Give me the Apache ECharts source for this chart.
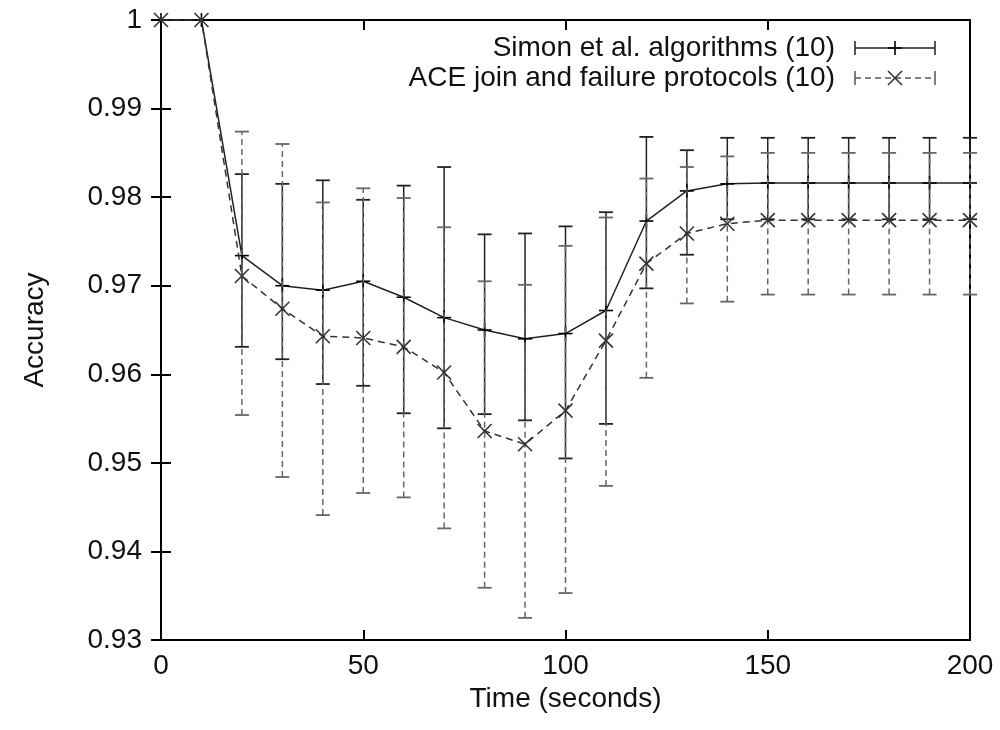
<!DOCTYPE html>
<html><head><meta charset="utf-8">
<script src="https://cdn.jsdelivr.net/npm/echarts@6/dist/echarts.min.js"></script>
<style>html,body{margin:0;padding:0;background:#fff}#c{width:1000px;height:730px}</style>
</head><body><div id="c"></div>
<script>
const times = [0,10,20,30,40,50,60,70,80,90,100,110,120,130,140,150,160,170,180,190,200];
const simonMean = [1,1,0.9734,0.9700,0.9695,0.9705,0.9687,0.9664,0.9650,0.9640,0.9646,0.9672,0.9773,0.9807,0.9815,0.9816,0.9816,0.9816,0.9816,0.9816,0.9816];
const simonLow  = [1,1,0.9631,0.9617,0.9589,0.9587,0.9556,0.9539,0.9555,0.9548,0.9505,0.9544,0.9697,0.9735,0.9775,0.9775,0.9775,0.9775,0.9775,0.9775,0.9775];
const simonHigh = [1,1,0.9826,0.9815,0.9819,0.9797,0.9813,0.9834,0.9758,0.9759,0.9767,0.9783,0.9868,0.9853,0.9867,0.9867,0.9867,0.9867,0.9867,0.9867,0.9867];
const aceMean = [1,1,0.9711,0.9674,0.9643,0.9641,0.9631,0.9602,0.9536,0.9521,0.9559,0.9638,0.9725,0.9759,0.9770,0.9774,0.9774,0.9774,0.9774,0.9774,0.9774];
const aceLow  = [1,1,0.9554,0.9484,0.9441,0.9466,0.9461,0.9426,0.9359,0.9325,0.9353,0.9474,0.9596,0.9680,0.9682,0.9690,0.9690,0.9690,0.9690,0.9690,0.9690];
const aceHigh = [1,1,0.9874,0.9860,0.9794,0.9810,0.9799,0.9766,0.9705,0.9701,0.9745,0.9777,0.9821,0.9834,0.9846,0.9850,0.9850,0.9850,0.9850,0.9850,0.9850];
const seriesNames = ['Simon et al. algorithms (10)', 'ACE join and failure protocols (10)'];
const yTicks = {min: 0.93, max: 1, interval: 0.01};
const xTicks = {min: 0, max: 200, interval: 50};

const FONT = "'Liberation Sans', Arial, Helvetica, sans-serif";
const FS = 28;
const TXT = '#111';
const CAP = 7, MK = 7;

function markerShapes(kind, cx, cy, style) {
  if (kind === 'plus') {
    return [
      {type:'line', shape:{x1:cx-MK,y1:cy,x2:cx+MK,y2:cy}, style},
      {type:'line', shape:{x1:cx,y1:cy-MK,x2:cx,y2:cy+MK}, style}
    ];
  }
  return [
    {type:'line', shape:{x1:cx-MK,y1:cy-MK,x2:cx+MK,y2:cy+MK}, style},
    {type:'line', shape:{x1:cx-MK,y1:cy+MK,x2:cx+MK,y2:cy-MK}, style}
  ];
}

function errRender(color, dash, marker, markColor) {
  return function(params, api) {
    const x = api.value(0), lo = api.value(1), hi = api.value(2), m = api.value(3);
    const pLo = api.coord([x, lo]), pHi = api.coord([x, hi]), pM = api.coord([x, m]);
    const st = {stroke: color, lineWidth: 1.5, lineDash: dash};
    const cst = {stroke: color, lineWidth: 1.8};
    const ch = [];
    if (hi > lo) {
      ch.push({type:'line', shape:{x1:pLo[0],y1:pLo[1],x2:pHi[0],y2:pHi[1]}, style:st});
      ch.push({type:'line', shape:{x1:pLo[0]-CAP,y1:pLo[1],x2:pLo[0]+CAP,y2:pLo[1]}, style:cst});
      ch.push({type:'line', shape:{x1:pHi[0]-CAP,y1:pHi[1],x2:pHi[0]+CAP,y2:pHi[1]}, style:cst});
    }
    markerShapes(marker, pM[0], pM[1], {stroke: markColor, lineWidth: 1.6}).forEach(s => ch.push(s));
    return {type:'group', children: ch};
  };
}

const simonErr = times.map((t,i)=>[t, simonLow[i], simonHigh[i], simonMean[i]]);
const aceErr = times.map((t,i)=>[t, aceLow[i], aceHigh[i], aceMean[i]]);

const axisCommon = {
  axisLine: {show: true, lineStyle: {color: '#000', width: 2}},
  axisTick: {show: true, inside: true, length: 10, lineStyle: {color: '#000', width: 2}},
  splitLine: {show: false}
};

const chart = echarts.init(document.getElementById('c'), null, {renderer: 'canvas'});

// legend graphics
const LX1 = 855, LX2 = 935, LXM = 895, LY1 = 48, LY2 = 78;
const legendGraphics = [
  {type:'text', style:{text: seriesNames[0], x: 835, y: LY1, align:'right', verticalAlign:'middle', fontSize: FS, fontFamily: FONT, fill: TXT}},
  {type:'text', style:{text: seriesNames[1], x: 835, y: LY2, align:'right', verticalAlign:'middle', fontSize: FS, fontFamily: FONT, fill: TXT}},
  {type:'line', shape:{x1:LX1,y1:LY1,x2:LX2,y2:LY1}, style:{stroke:'#222', lineWidth:1.5}},
  {type:'line', shape:{x1:LX1,y1:LY1-CAP,x2:LX1,y2:LY1+CAP}, style:{stroke:'#222', lineWidth:1.5}},
  {type:'line', shape:{x1:LX2,y1:LY1-CAP,x2:LX2,y2:LY1+CAP}, style:{stroke:'#222', lineWidth:1.5}},
  {type:'line', shape:{x1:LX1,y1:LY2,x2:LX2,y2:LY2}, style:{stroke:'#555', lineWidth:1.5, lineDash:[6,4]}},
  {type:'line', shape:{x1:LX1,y1:LY2-CAP,x2:LX1,y2:LY2+CAP}, style:{stroke:'#555', lineWidth:1.5}},
  {type:'line', shape:{x1:LX2,y1:LY2-CAP,x2:LX2,y2:LY2+CAP}, style:{stroke:'#555', lineWidth:1.5}}
];
markerShapes('plus', LXM, LY1, {stroke:'#000', lineWidth:1.6}).forEach(s=>legendGraphics.push(s));
markerShapes('x', LXM, LY2, {stroke:'#333', lineWidth:1.6}).forEach(s=>legendGraphics.push(s));
legendGraphics.unshift({type:'rect', shape:{x:480,y:28,width:470,height:66}, style:{fill:'#fff'}});

const option = {
  backgroundColor: '#fff',
  animation: false,
  textStyle: {fontFamily: FONT},
  grid: {left: 161, right: 30, top: 20, bottom: 90, show: true, borderColor: '#000', borderWidth: 2, backgroundColor: 'transparent'},
  xAxis: [
    Object.assign({type:'value', position:'bottom', min:xTicks.min, max:xTicks.max, interval:xTicks.interval,
      name:'Time (seconds)', nameLocation:'middle', nameGap:44,
      nameTextStyle:{fontSize:FS, color:TXT, fontFamily:FONT},
      axisLabel:{fontSize:FS, color:TXT, margin:12, fontFamily:FONT}}, axisCommon),
    Object.assign({type:'value', position:'top', min:xTicks.min, max:xTicks.max, interval:xTicks.interval,
      axisLabel:{show:false}}, axisCommon)
  ],
  yAxis: [
    Object.assign({type:'value', position:'left', min:yTicks.min, max:yTicks.max, interval:yTicks.interval,
      name:'Accuracy', nameLocation:'middle', nameGap:112, nameRotate:90,
      nameTextStyle:{fontSize:FS, color:TXT, fontFamily:FONT},
      axisLabel:{fontSize:FS, color:TXT, margin:19, fontFamily:FONT, formatter: v => String(+(+v).toFixed(2))}}, axisCommon),
    Object.assign({type:'value', position:'right', min:yTicks.min, max:yTicks.max, interval:yTicks.interval,
      axisLabel:{show:false}}, axisCommon)
  ],
  graphic: {elements: legendGraphics},
  series: [
    {name: seriesNames[0], type:'line', data: times.map((t,i)=>[t, simonMean[i]]), symbol:'none',
      lineStyle:{color:'#222', width:1.5}, z:2},
    {name: seriesNames[0]+' err', type:'custom', data: simonErr, encode:{x:0, y:[1,2,3]},
      renderItem: errRender('#222', null, 'plus', '#000'), clip:false, z:3},
    {name: seriesNames[1], type:'line', data: times.map((t,i)=>[t, aceMean[i]]), symbol:'none',
      lineStyle:{color:'#333', width:1.5, type:[7,5]}, z:4},
    {name: seriesNames[1]+' err', type:'custom', data: aceErr, encode:{x:0, y:[1,2,3]},
      renderItem: errRender('#666', [6,4], 'x', '#333'), clip:false, z:5}
  ]
};
chart.setOption(option);
</script>
</body></html>
